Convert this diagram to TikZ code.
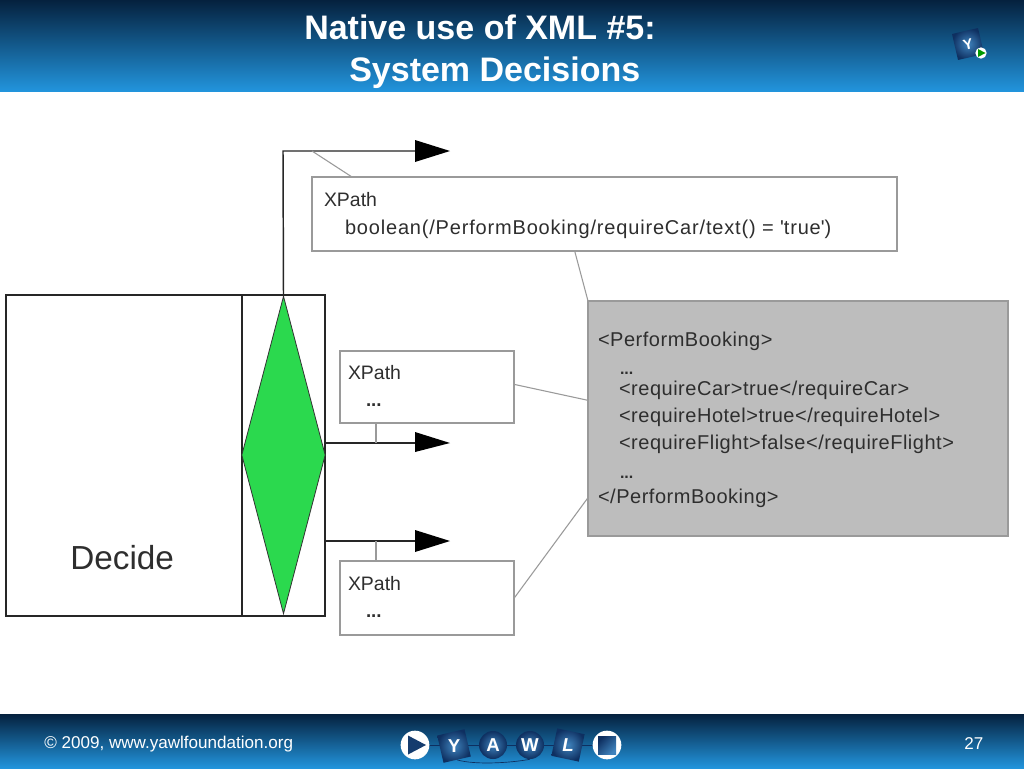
\documentclass[tikz,border=0pt]{standalone}
\usepackage{fontspec}
\setmainfont{Liberation Sans}
\usetikzlibrary{shapes.geometric,fit,calc}
\definecolor{barTop}{HTML}{05213E}
\definecolor{barMid}{HTML}{1670B0}
\definecolor{barBot}{HTML}{2294DC}
\definecolor{boxline}{HTML}{9A9A9A}
\definecolor{grayfill}{HTML}{BDBDBD}
\definecolor{inkc}{HTML}{2E2E2E}
\definecolor{gategreen}{HTML}{2BD94E}
\definecolor{logoDark}{HTML}{0E2F60}
\definecolor{logoLight}{HTML}{3F83BD}
\tikzset{
  xbox/.style={draw=boxline,line width=1pt,fill=white,inner sep=0pt,outer sep=0pt},
  blackbox/.style={draw=black!85,line width=1pt,inner sep=0pt,outer sep=0pt},
  note/.style={draw=boxline,line width=0.8pt},
  flow/.style={draw=black!85,line width=1.1pt},
  head/.style={fill=black,draw=none},
  lab/.style={anchor=base west,inner sep=0pt,outer sep=0pt,text=inkc,font=\fontsize{14.6}{17}\selectfont},
  longtxt/.style={lab,font=\fontsize{15}{17}\selectfont\addfontfeature{LetterSpace=4.1}},
  xmltxt/.style={lab,font=\fontsize{15}{17}\selectfont\addfontfeature{LetterSpace=2.6}},
  dots/.style={lab,font=\fontsize{14}{17}\selectfont\bfseries},
  titletxt/.style={anchor=base west,inner sep=0pt,text=white,font=\fontsize{25.5}{28}\selectfont\bfseries},
  foot/.style={anchor=base west,inner sep=0pt,text=white,font=\fontsize{12.8}{14}\selectfont},
  logotxt/.style={text=white,inner sep=0pt,font=\fontsize{14}{15}\selectfont\bfseries},
  ball/.style={circle,minimum size=21pt,inner sep=0pt,inner color=logoLight,outer color=logoDark},
  whiteball/.style={circle,fill=white,minimum size=21.5pt,inner sep=0pt},
  tile/.style={rectangle,minimum size=21pt,inner sep=0pt,inner color=logoLight,outer color=logoDark},
  linkl/.style={draw=logoDark,line width=.5pt},
}
\begin{document}
\begin{tikzpicture}[x=0.75pt,y=-0.75pt]
\useasboundingbox (0,0) rectangle (1024,768);
% bars
\fill[white] (0,0) rectangle (1024,768);
\shade[top color=barTop,middle color=barMid,bottom color=barBot] (0,0) rectangle (1024,91);
\shade[top color=barTop,middle color=barMid,bottom color=barBot] (0,714) rectangle (1024,768);
\node[titletxt] (t1) at (304,39) {Native use of XML \#5:};
\node[titletxt] (t2) at (349,81) {System Decisions};
% top logo
\node[tile,rotate=13,minimum size=20pt] (toplogo) at (968,44) {};
\node[logotxt,font=\fontsize{11}{12}\selectfont\bfseries,rotate=13] (toplogoY) at (968,44) {Y};
\node[circle,fill=white,minimum size=8.5pt,inner sep=0pt] (topplay) at (981,53) {};
\fill[green!60!black] (978,49) -- (985.5,53) -- (978,57) -- cycle;
% task box
\node[blackbox,fit={(6,295)(325,616)}] (task) {};
\coordinate (divtop) at (242,295);
\coordinate (divbot) at (242,616);
\draw[blackbox] (divtop) -- (divbot);
\node[anchor=base west,inner sep=0pt,text=inkc,font=\fontsize{25}{27}\selectfont] (decide) at (70,569) {Decide};
% gate
\node[diamond,draw=black!80,fill=gategreen,line width=.6pt,inner sep=0pt,outer sep=0pt,minimum width=62.5pt,minimum height=238pt,shape aspect=.26] (gate) at (283.5,455) {};
% xpath boxes
\node[xbox,fit={(312,177)(897,251)}] (x1) {};
\node[xbox,fit={(340,351)(514,423)}] (x2) {};
\node[xbox,fit={(340,561)(514,635)}] (x3) {};
\node[fit={(588,301)(1008,536)},draw=boxline,line width=1pt,fill=grayfill,inner sep=0pt,outer sep=0pt] (xml) {};
% flows
\coordinate (c1) at (283,151);
\coordinate (e1) at (415,151);
\coordinate (s2) at (325,443);
\coordinate (e2) at (415,443);
\coordinate (s3) at (326,541);
\coordinate (e3) at (415,541);
\draw[flow] (gate.north) -- (c1) -- (e1);
\draw[flow] (s2) -- (e2);
\draw[flow] (s3) -- (e3);
\fill[head] (e1) ++(0,-11) -- ++(35,11) -- ++(-35,11) -- cycle;
\fill[head] (e2) ++(0,-11) -- ++(35,11) -- ++(-35,9) -- cycle;
\fill[head] (e3) ++(0,-11) -- ++(35,11) -- ++(-35,11) -- cycle;
% notes
\coordinate (n1) at (312,151);
\coordinate (n2) at (376,443);
\coordinate (n3) at (376,541);
\draw[note] (n1) -- ([xshift=30pt]x1.north west);
\draw[note] (n2) -- ([xshift=27pt]x2.south west);
\draw[note] (n3) -- ([xshift=27pt]x3.north west);
\draw[note] ([xshift=197pt]x1.south west) -- (xml.north west);
\draw[note] ([yshift=-25pt]x2.north east) -- ([yshift=-74.5pt]xml.north west);
\draw[note] ([yshift=-28pt]x3.north east) -- ([yshift=-147.5pt]xml.north west);
% texts
\node[lab] (x1a) at (324,206) {XPath};
\node[longtxt] (x1b) at (345,234) {boolean(/PerformBooking/requireCar/text() = \textquotesingle true\textquotesingle)};
\node[lab] (x2a) at (348,379) {XPath};
\node[dots] (x2b) at (366,406) {...};
\node[lab] (x3a) at (348,590) {XPath};
\node[dots] (x3b) at (366,617) {...};
\node[xmltxt] (m1) at (598,346) {<PerformBooking>};
\node[dots,font=\fontsize{12}{14}\selectfont\bfseries] (m2) at (620,374) {...};
\node[xmltxt] (m3) at (619,395) {<requireCar>true</requireCar>};
\node[xmltxt] (m4) at (619,422) {<requireHotel>true</requireHotel>};
\node[xmltxt] (m5) at (619,449) {<requireFlight>false</requireFlight>};
\node[dots,font=\fontsize{12}{14}\selectfont\bfseries] (m6) at (620,478) {...};
\node[xmltxt] (m7) at (598,503) {</PerformBooking>};
% footer
\node[foot] (copy) at (44,748) {© 2009, www.yawlfoundation.org};
\node[foot] (page) at (964,749) {27};
% footer logo
\draw[linkl] (415,745) -- (607,745);
\node[whiteball] (lstart) at (415,745) {};
\node[tile,rotate=13] (lY) at (454,746) {};
\node[ball] (lA) at (493,745) {};
\node[ball] (lW) at (530,745) {};
\node[tile,rotate=-12] (lL) at (568,745) {};
\node[whiteball] (lstop) at (607,745) {};
\draw[linkl] (lY.south) .. controls (475,765) and (510,763) .. (lW.south);
\fill[logoDark!85!logoLight] (408,735.5) -- (426,745) -- (408,754.5) -- cycle;
\shade[top color=logoDark,bottom color=logoLight,shading angle=45] (598,736) rectangle (616,754);
\node[logotxt] (tY) at (lY) {Y};
\node[logotxt] (tA) at (lA) {A};
\node[logotxt] (tW) at (lW) {W};
\node[logotxt] (tL) at (lL) {\itshape L};
\end{tikzpicture}
\end{document}
